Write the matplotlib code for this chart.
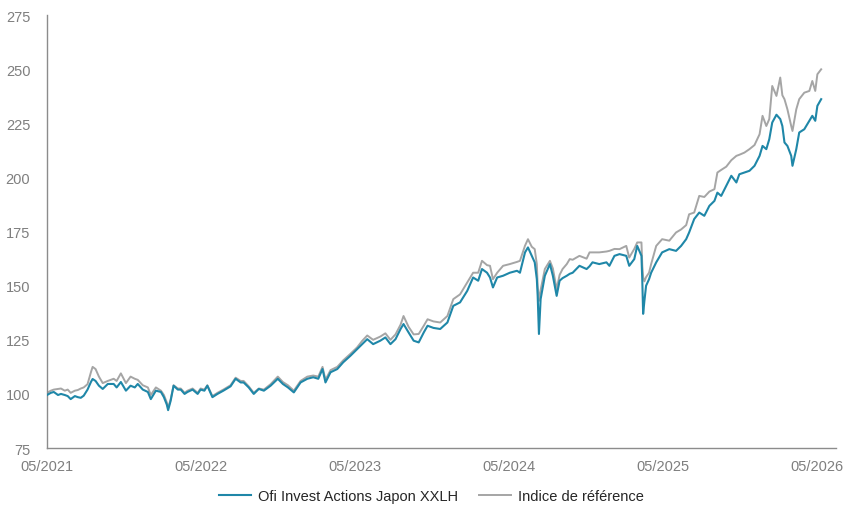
import numpy as np
import pandas as pd
import matplotlib
matplotlib.use('Agg')
import matplotlib.pyplot as plt
import matplotlib.dates as mdates

# Data (base 100 in 05/2021)
dates = [
    '2021-05-01', '2021-05-10', '2021-05-17', '2021-05-27', '2021-06-03', '2021-06-12',
    '2021-06-19', '2021-06-26', '2021-07-06', '2021-07-13', '2021-07-20', '2021-07-27',
    '2021-08-05', '2021-08-13', '2021-08-17', '2021-08-24', '2021-09-01', '2021-09-10',
    '2021-09-22', '2021-10-06', '2021-10-13', '2021-10-23', '2021-11-04', '2021-11-15',
    '2021-11-25', '2021-12-02', '2021-12-14', '2021-12-26', '2022-01-02', '2022-01-14',
    '2022-01-26', '2022-02-02', '2022-02-09', '2022-02-12', '2022-02-18', '2022-02-25',
    '2022-03-07', '2022-03-14', '2022-03-23', '2022-03-30', '2022-04-11', '2022-04-23',
    '2022-04-30', '2022-05-09', '2022-05-16', '2022-05-28', '2022-06-09', '2022-06-23',
    '2022-07-10', '2022-07-22', '2022-08-03', '2022-08-10', '2022-08-22', '2022-09-03',
    '2022-09-15', '2022-09-27', '2022-10-13', '2022-10-30', '2022-11-11', '2022-11-23',
    '2022-12-07', '2022-12-23', '2023-01-08', '2023-01-22', '2023-02-03', '2023-02-13',
    '2023-02-20', '2023-03-04', '2023-03-20', '2023-04-03', '2023-04-20', '2023-05-06',
    '2023-05-18', '2023-05-30', '2023-06-13', '2023-06-30', '2023-07-12', '2023-07-24',
    '2023-08-05', '2023-08-17', '2023-08-24', '2023-09-05', '2023-09-17', '2023-09-29',
    '2023-10-11', '2023-10-20', '2023-11-03', '2023-11-19', '2023-12-06', '2023-12-20',
    '2024-01-05', '2024-01-22', '2024-02-05', '2024-02-17', '2024-02-26', '2024-03-09',
    '2024-03-16', '2024-03-23', '2024-04-02', '2024-04-16', '2024-05-02', '2024-05-19',
    '2024-05-26', '2024-06-07', '2024-06-14', '2024-06-23', '2024-06-30', '2024-07-05',
    '2024-07-07', '2024-07-10', '2024-07-14', '2024-07-24', '2024-08-05', '2024-08-12',
    '2024-08-21', '2024-08-28', '2024-09-04', '2024-09-14', '2024-09-21', '2024-09-28',
    '2024-10-14', '2024-10-31', '2024-11-07', '2024-11-14', '2024-11-30', '2024-12-17',
    '2024-12-24', '2025-01-05', '2025-01-17', '2025-02-02', '2025-02-09', '2025-02-21',
    '2025-02-28', '2025-03-10', '2025-03-12', '2025-03-14', '2025-03-17', '2025-03-21',
    '2025-03-28', '2025-04-02', '2025-04-14', '2025-04-28', '2025-05-15', '2025-05-31',
    '2025-06-12', '2025-06-24', '2025-07-01', '2025-07-13', '2025-07-25', '2025-08-06',
    '2025-08-18', '2025-08-30', '2025-09-06', '2025-09-15', '2025-09-27', '2025-10-09',
    '2025-10-21', '2025-10-28', '2025-11-09', '2025-11-21', '2025-12-03', '2025-12-15',
    '2025-12-22', '2025-12-31', '2026-01-07', '2026-01-14', '2026-01-24', '2026-02-02',
    '2026-02-07', '2026-02-12', '2026-02-19', '2026-02-28', '2026-03-03', '2026-03-12',
    '2026-03-19', '2026-03-31', '2026-04-12', '2026-04-19', '2026-04-26', '2026-05-01',
    '2026-05-10',
]

fund = [
    99.5, 100.5, 100.9, 99.5, 100.0, 99.5,
    99.0, 97.6, 99.0, 98.5, 98.2, 99.2,
    102.0, 105.5, 106.9, 106.0, 103.8, 102.3,
    104.6, 104.6, 103.0, 105.5, 101.5, 103.8,
    103.0, 104.6, 102.0, 100.9, 97.6, 101.5,
    100.9, 98.5, 95.0, 92.5, 96.8, 103.8,
    102.0, 102.0, 100.0, 100.9, 102.0, 100.0,
    102.0, 101.5, 103.8, 98.5, 100.0, 101.5,
    103.5, 107.0, 105.3, 105.3, 103.0, 100.0,
    102.3, 101.5, 103.8, 107.0, 104.6, 103.0,
    100.7, 105.3, 107.0, 107.7, 107.0, 111.5,
    105.3, 110.0, 111.5, 114.6, 117.6, 120.7,
    123.0, 125.3, 123.0, 124.6, 126.1, 123.0,
    125.3, 130.0, 132.3, 128.4, 124.6, 123.8,
    128.4, 131.5, 130.5, 130.0, 133.0, 140.7,
    142.3, 147.6, 153.8, 152.3, 157.7, 156.0,
    153.8, 149.2, 153.8, 154.6, 156.0, 156.9,
    156.0, 165.4, 167.7, 163.8, 160.8, 153.0,
    145.3, 127.7, 143.8, 154.6, 160.0, 154.6,
    145.3, 152.3, 153.5, 154.6, 155.5, 156.0,
    159.2, 157.7, 159.0, 160.8, 160.0, 160.8,
    159.2, 163.8, 164.6, 163.8, 159.2, 162.3,
    168.4, 163.8, 152.3, 137.0, 143.0, 150.0,
    153.0, 156.0, 160.8, 165.4, 166.9, 166.1,
    168.4, 171.5, 174.6, 180.8, 183.8, 182.3,
    186.9, 189.2, 193.0, 191.5, 196.1, 200.8,
    197.7, 201.5, 202.3, 203.1, 205.4, 210.0,
    214.6, 213.1, 217.7, 225.4, 229.0, 227.0,
    223.8, 216.2, 214.6, 210.0, 205.4, 213.1,
    220.8, 222.3, 226.2, 228.5, 226.2, 233.1,
    236.2,
]

benchmark = [
    100.5, 101.5, 102.0, 102.3, 102.5, 101.5,
    102.0, 100.5, 101.5, 101.8, 102.5, 103.0,
    104.5, 110.0, 112.5, 111.5, 108.0, 105.0,
    106.0, 107.0, 106.0, 109.5, 105.0, 108.0,
    107.0, 106.5, 104.0, 103.0, 99.5, 103.0,
    101.5, 99.5, 96.0, 93.5, 97.5, 104.0,
    102.5, 102.5, 100.5, 101.5, 102.5, 100.5,
    102.5, 102.0, 104.0, 99.0, 100.5, 102.0,
    104.0, 107.5, 106.0, 106.0, 103.5, 100.5,
    102.5, 102.0, 104.5, 108.0, 105.5, 104.0,
    101.5, 106.0, 108.0, 108.5, 108.0, 112.5,
    106.5, 111.0, 112.5, 115.5, 118.5, 121.5,
    124.5, 127.0, 125.0, 126.5, 128.0, 125.0,
    127.5, 132.0, 136.0, 131.0, 127.5, 127.7,
    131.5, 134.5, 133.5, 133.0, 136.0, 143.8,
    146.0, 151.5, 156.0, 156.0, 161.5, 159.5,
    159.2, 153.0, 156.0, 159.2, 160.0, 161.0,
    161.5, 168.5, 171.5, 168.0, 166.9, 160.0,
    150.0, 143.0, 148.0, 157.7, 161.5, 158.0,
    148.4, 155.0, 157.7, 160.0, 162.3, 162.0,
    163.8, 162.5, 165.4, 165.4, 165.4, 165.8,
    166.1, 167.0, 166.9, 168.4, 163.0, 167.0,
    170.0, 170.0, 159.2, 154.0, 152.0, 154.0,
    156.0, 160.0, 168.4, 171.5, 170.8, 174.6,
    176.0, 178.0, 183.0, 183.8, 191.5, 191.0,
    193.5, 194.6, 202.3, 203.5, 205.0, 208.0,
    210.0, 210.5, 211.5, 213.1, 215.0, 220.0,
    228.5, 223.8, 227.0, 242.3, 237.7, 246.2,
    238.0, 236.2, 231.5, 223.8, 221.5, 231.5,
    236.2, 239.2, 240.0, 244.6, 240.0, 247.7,
    250.0,
]

fund_label = 'Ofi Invest Actions Japon XXLH'
bench_label = 'Indice de référence'
tick_years = [2021, 2022, 2023, 2024, 2025, 2026]

plt.rcParams['font.family'] = ['Liberation Sans', 'DejaVu Sans']

df = pd.DataFrame({'date': pd.to_datetime(dates), 'fund': fund, 'bench': benchmark})

fig = plt.figure(figsize=(8.46, 5.06), dpi=100)
ax = fig.add_axes([0.0556, 0.1126, 0.933, 0.8554])

ax.plot(df['date'], df['bench'], color='#a5a5a5', lw=1.4, label=bench_label, zorder=2)
ax.plot(df['date'], df['fund'], color='#1f87a8', lw=1.5, label=fund_label, zorder=3)

ax.set_ylim(75, 275)
ax.set_yticks(np.arange(75, 276, 25))
ax.set_xlim(pd.Timestamp('2021-05-01'), pd.Timestamp('2026-06-15'))
ax.set_xticks([pd.Timestamp(f'{y}-05-01') for y in tick_years])
ax.xaxis.set_major_formatter(mdates.DateFormatter('%m/%Y'))

for s in ['top', 'right']:
    ax.spines[s].set_visible(False)
for s in ['left', 'bottom']:
    ax.spines[s].set_color('#8c8c8c')
    ax.spines[s].set_linewidth(1.0)
ax.tick_params(axis='both', length=0, labelsize=10.5, colors='#7f7f7f')
ax.tick_params(axis='y', pad=12)
ax.tick_params(axis='x', pad=8)

handles, labels = ax.get_legend_handles_labels()
fig.legend(handles[::-1], labels[::-1], loc='lower center', bbox_to_anchor=(0.51, -0.022),
           ncol=2, frameon=False, fontsize=10.5, handlelength=2.2, columnspacing=1.4,
           handletextpad=0.5, labelcolor='#262626')

plt.savefig('out.png', dpi=100)
